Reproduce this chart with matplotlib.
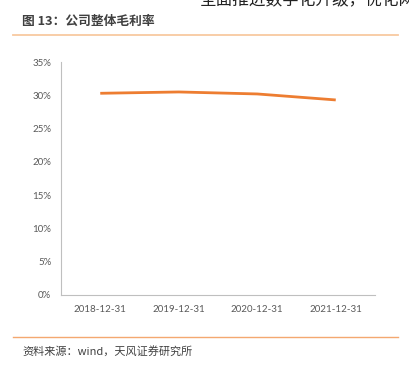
import matplotlib
matplotlib.use('Agg')
from matplotlib import pyplot as plt
from matplotlib.lines import Line2D

plt.rcParams['font.family'] = ['Noto Sans CJK SC', 'DejaVu Sans']

categories = ['2018-12-31', '2019-12-31', '2020-12-31', '2021-12-31']
gross_margin = [30.3, 30.5, 30.2, 29.3]
y_ticks = [0, 5, 10, 15, 20, 25, 30, 35]
y_labels = ['0%', '5%', '10%', '15%', '20%', '25%', '30%', '35%']

W, H = 409, 366
fig = plt.figure(figsize=(W / 100, H / 100), dpi=100)

ax = fig.add_axes([61 / W, 1 - 295 / H, (375 - 61) / W, (295 - 62) / H])
x = list(range(len(categories)))
ax.plot(x, gross_margin, color='#ED7D31', linewidth=2.0, solid_capstyle='butt')
ax.set_xlim(-0.5, len(categories) - 0.5)
ax.set_ylim(0, 35)
ax.set_xticks(x)
ax.set_xticklabels(categories, fontsize=7, color='#595959', family=['Lato', 'DejaVu Sans'])
ax.set_yticks(y_ticks)
ax.set_yticklabels(y_labels, fontsize=7, color='#595959', family=['Lato', 'DejaVu Sans'])
ax.tick_params(length=0, pad=7)
for s in ['top', 'right']:
    ax.spines[s].set_visible(False)
for s in ['left', 'bottom']:
    ax.spines[s].set_color('#BFBFBF')
    ax.spines[s].set_linewidth(0.8)

# cut-off body text at the top of the page (cut in the reference too)
fig.text(200 / W, 1 - 5 / H, '全面推进数字化升级，优化网络', fontsize=12, color='#222222',
         va='baseline', ha='left')
# title and rules
fig.text(22 / W, 1 - 21 / H, '图 13：公司整体毛利率', fontsize=9.2, fontweight='bold',
         color='#404040', va='center', ha='left')
fig.add_artist(Line2D([13 / W, 398 / W], [1 - 35 / H, 1 - 35 / H], color='#F8C9A0', linewidth=1.3))
fig.add_artist(Line2D([13 / W, 398 / W], [1 - 337 / H, 1 - 337 / H], color='#F4A870', linewidth=1.0))
fig.text(22 / W, 1 - 351 / H, '资料来源：wind，天风证券研究所', fontsize=8,
         color='#404040', va='center', ha='left')

fig.savefig('out.png', dpi=100)
